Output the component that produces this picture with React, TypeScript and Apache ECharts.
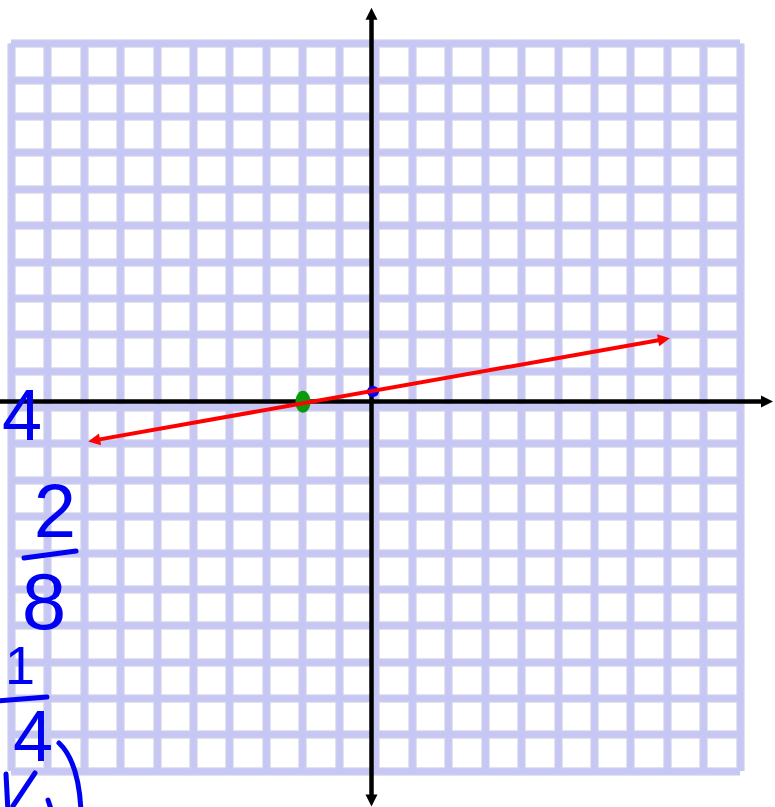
import React, { useEffect, useRef } from "react";
import * as echarts from "echarts";

// Grid extent (one square per unit)
const X_MIN = -10;
const X_MAX = 10;
const Y_MIN = -10;
const Y_MAX = 10;
const STEP = 1;

// Hand-drawn coordinate axes (data units of the grid)
const horizontalAxis: number[][] = [[-10.6, 0.16], [10.74, 0.16]];
const verticalAxis: number[][] = [[-0.11, -10.81], [-0.11, 10.82]];

// Red line with arrows at both ends
const redLine: number[][] = [[-7.72, -0.91], [7.915, 1.87]];

// Marked intercepts
const xInterceptPoint: number[][] = [[-1.99, 0.15]];
const yInterceptPoint: number[][] = [[-0.07, 0.43]];

// Handwritten notes
const noteTexts: string[] = ["4", "2", "8", "1", "4"];

const LAVENDER = "#c7c7f5";
const EDGE = "#d9d9e6";
const INK = "#0000f2";

export default function App() {
  const ref = useRef<HTMLDivElement>(null);

  useEffect(() => {
    if (!ref.current) return;
    const chart = echarts.init(ref.current, undefined, { renderer: "svg" });

    const valueAxis = (color: string, width: number, z: number) => ({
      type: "value" as const,
      min: X_MIN,
      max: X_MAX,
      interval: STEP,
      z,
      axisLine: { show: false },
      axisTick: { show: false },
      axisLabel: { show: false },
      splitLine: { show: true, lineStyle: { color, width } },
    });

    const font = (size: number) => `${size}px "Liberation Sans", Arial, sans-serif`;
    const note = (text: string, x: number, y: number, size: number) => ({
      type: "text",
      z: 20,
      style: {
        text,
        x,
        y,
        fill: INK,
        font: font(size),
        align: "center",
        verticalAlign: "middle",
        textAlign: "center",
        textVerticalAlign: "middle",
      },
    });
    const stroke = (x1: number, y1: number, x2: number, y2: number) => ({
      type: "line",
      z: 20,
      shape: { x1, y1, x2, y2 },
      style: { stroke: INK, lineWidth: 5, lineCap: "round" },
    });

    chart.setOption({
      animation: false,
      backgroundColor: "#ffffff",
      grid: { left: 11, top: 43.5, width: 729, height: 727.5, containLabel: false },
      xAxis: [
        { ...valueAxis(EDGE, 8.5, 0), gridIndex: 0 },
        { ...valueAxis(LAVENDER, 6.5, 1), gridIndex: 0 },
      ],
      yAxis: [
        { ...valueAxis(EDGE, 8.5, 0), min: Y_MIN, max: Y_MAX, gridIndex: 0 },
        { ...valueAxis(LAVENDER, 6.5, 1), min: Y_MIN, max: Y_MAX, gridIndex: 0 },
      ],
      series: [
        {
          type: "lines",
          coordinateSystem: "cartesian2d",
          xAxisIndex: 0,
          yAxisIndex: 0,
          clip: false,
          silent: true,
          z: 3,
          symbol: ["none", "triangle"],
          symbolSize: 12,
          lineStyle: { color: "#000000", width: 4.5, opacity: 1, curveness: 0 },
          data: [{ coords: horizontalAxis }],
        },
        {
          type: "lines",
          coordinateSystem: "cartesian2d",
          xAxisIndex: 0,
          yAxisIndex: 0,
          clip: false,
          silent: true,
          z: 3,
          symbol: ["triangle", "triangle"],
          symbolSize: 12,
          lineStyle: { color: "#000000", width: 4.5, opacity: 1, curveness: 0 },
          data: [{ coords: verticalAxis }],
        },
        {
          type: "scatter",
          xAxisIndex: 0,
          yAxisIndex: 0,
          silent: true,
          z: 4,
          symbol: "circle",
          symbolSize: [15, 22],
          itemStyle: { color: "#0a9a0a", opacity: 1 },
          data: xInterceptPoint,
        },
        {
          type: "scatter",
          xAxisIndex: 0,
          yAxisIndex: 0,
          silent: true,
          z: 4,
          symbol: "circle",
          symbolSize: [12, 11],
          itemStyle: { color: "#0000ff", opacity: 1 },
          data: yInterceptPoint,
        },
        {
          type: "lines",
          coordinateSystem: "cartesian2d",
          xAxisIndex: 0,
          yAxisIndex: 0,
          clip: false,
          silent: true,
          z: 5,
          symbol: ["triangle", "triangle"],
          symbolSize: 12,
          lineStyle: { color: "#ff0000", width: 4, opacity: 1, curveness: 0 },
          data: [{ coords: redLine }],
        },
      ],
      graphic: [
        note(noteTexts[0], 22, 415, 72),
        note(noteTexts[1], 55, 510, 76),
        stroke(24, 558, 76, 551),
        note(noteTexts[2], 44, 601, 80),
        note(noteTexts[3], 20, 665, 54),
        stroke(-2, 701, 47, 697),
        note(noteTexts[4], 33, 736, 72),
        {
          type: "bezierCurve",
          z: 20,
          shape: { x1: 59, y1: 743, x2: 81, y2: 812, cpx1: 79, cpy1: 762 },
          style: { stroke: INK, lineWidth: 5, fill: "none", lineCap: "round" },
        },
        stroke(6, 774, 8, 812),
        stroke(35, 773, 13, 806),
        stroke(48, 800, 52, 812),
      ],
    });

    return () => chart.dispose();
  }, []);

  return (
    <div
      ref={ref}
      style={{ position: "fixed", left: 0, top: 0, width: 775, height: 807, background: "#ffffff" }}
    />
  );
}
